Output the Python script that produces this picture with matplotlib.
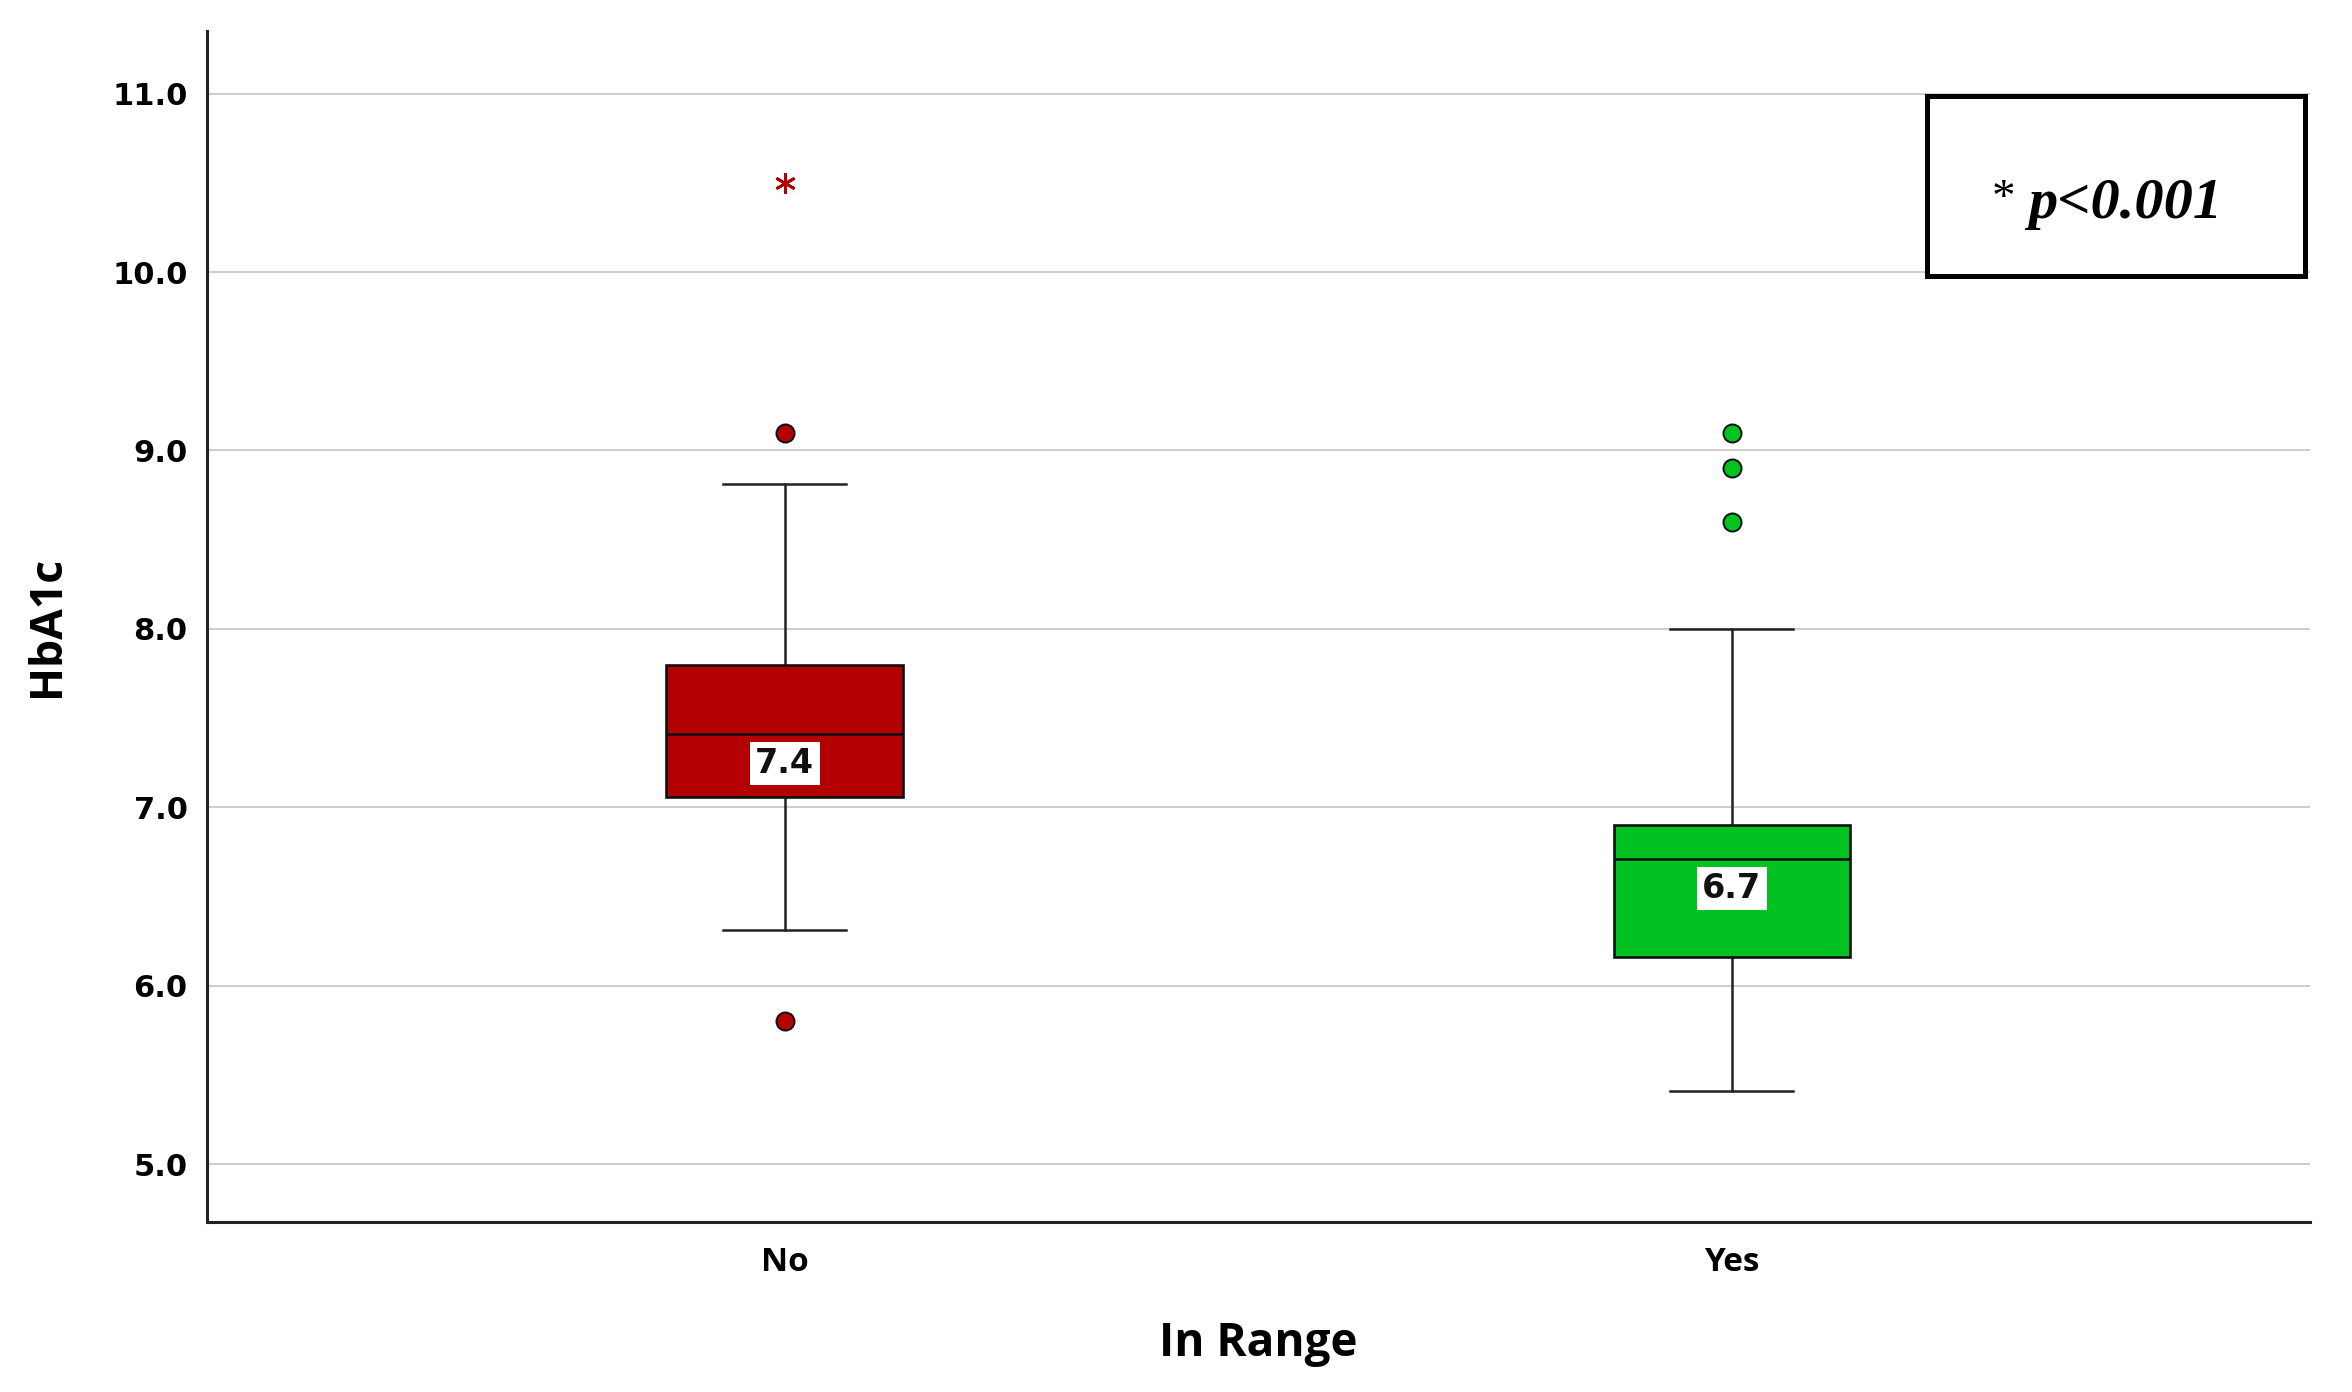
import matplotlib
matplotlib.use("Agg")
import matplotlib.pyplot as plt
from matplotlib.patches import Rectangle

# ---- data ----
categories = ["No", "Yes"]
q1 = [7.06, 6.16]
medians = [7.41, 6.71]
q3 = [7.80, 6.90]
whisker_low = [6.31, 5.41]
whisker_high = [8.81, 8.00]
outliers = [[9.1, 5.8], [9.1, 8.9, 8.6]]
extremes = [[10.5], []]
yticks = [5.0, 6.0, 7.0, 8.0, 9.0, 10.0, 11.0]
box_colors = ["#B30000", "#00C322"]
x_label = "In Range"
y_label = "HbA1c"
p_text = "p<0.001"

fig = plt.figure(figsize=(23.52, 13.92), dpi=100)
ax = fig.add_axes([0.088, 0.122, 0.894, 0.856])

stats = []
for i, c in enumerate(categories):
    stats.append(dict(label=c, q1=q1[i], med=medians[i], q3=q3[i],
                      whislo=whisker_low[i], whishi=whisker_high[i],
                      fliers=outliers[i]))

positions = list(range(len(categories)))
bp = ax.bxp(stats, positions=positions, widths=0.25, patch_artist=True,
            showfliers=True, manage_ticks=False,
            boxprops=dict(linewidth=1.9, edgecolor="#111111"),
            medianprops=dict(color="#111111", linewidth=1.9),
            whiskerprops=dict(color="#222222", linewidth=1.8),
            capprops=dict(color="#222222", linewidth=1.8),
            capwidths=0.13,
            flierprops=dict(marker="o", markersize=13, markeredgecolor="#111111",
                            markeredgewidth=1.4, linestyle="none"))
for patch, col in zip(bp["boxes"], box_colors):
    patch.set_facecolor(col)
    patch.set_zorder(3)
for fl, col in zip(bp["fliers"], box_colors):
    fl.set_markerfacecolor(col)
    fl.set_zorder(4)
for k in ("whiskers", "caps", "medians"):
    for a in bp[k]:
        a.set_zorder(3.5 if k == "medians" else 2.5)

# extreme values as asterisks
for i, ext in enumerate(extremes):
    if ext:
        ax.plot([positions[i]] * len(ext), ext, linestyle="none",
                marker=(6, 2, 0), markersize=15, markeredgewidth=2.0,
                color=box_colors[i], zorder=4)

# median labels
for i, m in enumerate(medians):
    ax.text(positions[i], m - 0.165, f"{m:.1f}", ha="center", va="center",
            fontsize=24, fontweight="bold", family="DejaVu Sans", color="#111111",
            zorder=5,
            bbox=dict(boxstyle="square,pad=0.16", facecolor="white", edgecolor="none"))

ax.set_xlim(-0.61, 1.61)
ax.set_ylim(4.675, 11.353)
ax.set_yticks(yticks)
ax.set_yticklabels([f"{v:.1f}" for v in yticks], fontsize=22, fontweight="bold",
                   family="DejaVu Sans")
ax.set_xticks(positions)
ax.set_xticklabels(categories, fontsize=24, fontweight="bold", family="Open Sans")
ax.tick_params(axis="both", length=0)
ax.tick_params(axis="y", pad=14)
ax.tick_params(axis="x", pad=17)

ax.yaxis.grid(True, color="#C4C4C4", linewidth=1.2, zorder=0)
ax.set_axisbelow(True)
for s in ("top", "right"):
    ax.spines[s].set_visible(False)
for s in ("left", "bottom"):
    ax.spines[s].set_linewidth(2.2)
    ax.spines[s].set_color("#222222")

ax.set_xlabel(x_label, fontsize=33, fontweight="bold", family="Open Sans", labelpad=30)
ax.set_ylabel(y_label, fontsize=32, fontweight="bold", family="Open Sans", labelpad=30)

# p-value box
rect = Rectangle((0.818, 0.794), 0.180, 0.151, transform=ax.transAxes,
                 facecolor="white", edgecolor="black", linewidth=3.6, zorder=6,
                 clip_on=False)
ax.add_patch(rect)
ax.text(0.849, 0.876, "*", transform=ax.transAxes, ha="left", va="top",
        fontsize=34, family="Liberation Serif", zorder=7)
ax.text(0.866, 0.843, p_text, transform=ax.transAxes, ha="left", va="baseline",
        fontsize=42, fontweight="bold", fontstyle="italic", family="Liberation Serif",
        zorder=7)

fig.savefig("out.png", dpi=100, facecolor="white")
